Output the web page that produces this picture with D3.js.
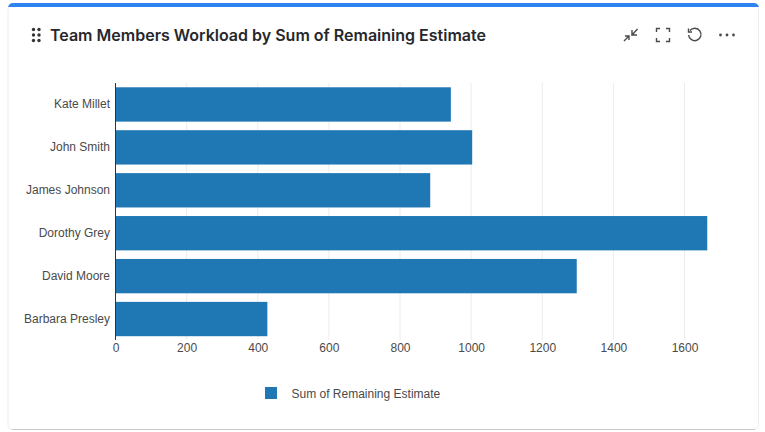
<!DOCTYPE html>
<html><head><meta charset="utf-8">
<script src="https://cdn.jsdelivr.net/npm/d3@7/dist/d3.min.js"></script>
<style>
html,body{margin:0;padding:0;background:#fff;width:765px;height:432px;overflow:hidden}
svg{display:block}
text{font-family:"Liberation Sans",Arial,sans-serif}
</style></head><body><div id="chart"></div>
<script>
const categories=["Kate Millet","John Smith","James Johnson","Dorothy Grey","David Moore","Barbara Presley"];
const values=[943,1003,885,1664,1297,427];
const ticks=[0,200,400,600,800,1000,1200,1400,1600];
const seriesName="Sum of Remaining Estimate";
const title="Team Members Workload by Sum of Remaining Estimate";
const barColor="#1f77b4";

const svg=d3.select("#chart").append("svg").attr("width",765).attr("height",432);
const defs=svg.append("defs");
defs.append("clipPath").attr("id","card").append("rect").attr("x",8).attr("y",3).attr("width",751).attr("height",426.5).attr("rx",5);
svg.append("rect").attr("x",8).attr("y",3.5).attr("width",750.5).attr("height",426).attr("rx",5).attr("fill","#fff").attr("stroke","#ececec");
svg.append("path").attr("d","M12,429.5H755").attr("stroke","#c8c8c8").attr("fill","none");
svg.append("rect").attr("x",8).attr("y",3).attr("width",751).attr("height",4).attr("fill","#2d84f0").attr("clip-path","url(#card)");

// header
const grip=svg.append("g").attr("fill","#333");
[[33.5,29.5],[39,29.5],[33.5,35],[39,35],[33.5,40.5],[39,40.5]].forEach(p=>grip.append("circle").attr("cx",p[0]).attr("cy",p[1]).attr("r",1.7));
svg.append("text").attr("x",50).attr("y",40.5).attr("font-size",16).attr("font-weight",600).attr("fill","#26282c").style("font-family","Inter").text(title);
const ic=svg.append("g").attr("fill","none").attr("stroke","#4a4a4a").attr("stroke-width",1.4);
ic.append("path").attr("d","M631.5,35.5L637.5,29M632,30V35H637M629,36L624,41M629,40V36H625");
ic.append("path").attr("d","M656.5,32V28.5H660M666,28.5H669.5V32M669.5,38V41.5H666M660,41.5H656.5V38");
ic.append("path").attr("d","M690,30.5A6.2,6.2 0 1 1 688.6,35M688.5,28.5V32H692");
svg.append("g").attr("fill","#4a4a4a").selectAll("circle").data([720.5,727,733.5]).join("circle").attr("cx",d=>d).attr("cy",35).attr("r",1.4);

const x=d3.scaleLinear().domain([0,1600]).range([115.5,684.5]);
const y=d3.scaleBand().domain(categories).range([83,340.5]).paddingInner(0.2).paddingOuter(0.1);

svg.append("g").selectAll("line").data(ticks.slice(1)).join("line")
 .attr("x1",d=>x(d)).attr("x2",d=>x(d)).attr("y1",83).attr("y2",340).attr("stroke","#ececec");

svg.append("g").selectAll("rect").data(values).join("rect")
 .attr("x",x(0)).attr("y",(d,i)=>y(categories[i])).attr("width",d=>x(d)-x(0)).attr("height",y.bandwidth()).attr("fill",barColor);

const ax=svg.append("g").attr("transform","translate(0,340)").call(d3.axisBottom(x).tickValues(ticks).tickSize(0).tickPadding(3).tickFormat(d3.format("d")));
ax.select(".domain").remove();
ax.selectAll("text").attr("font-size",12).attr("fill","#4a4a4a").style("font-family","Liberation Sans");

const ay=svg.append("g").attr("transform","translate(115.5,0)").call(d3.axisLeft(y).tickSize(0).tickPadding(5.5));
ay.select(".domain").remove();
ay.selectAll("text").attr("font-size",12).attr("fill","#4a4a4a").style("font-family","Liberation Sans");
svg.append("line").attr("x1",115.5).attr("x2",115.5).attr("y1",83).attr("y2",340).attr("stroke","#333");

svg.append("rect").attr("x",265).attr("y",387).attr("width",12).attr("height",12).attr("fill",barColor);
svg.append("text").attr("x",291.5).attr("y",398).attr("font-size",12).attr("fill","#4a4a4a").text(seriesName);
</script></body></html>
